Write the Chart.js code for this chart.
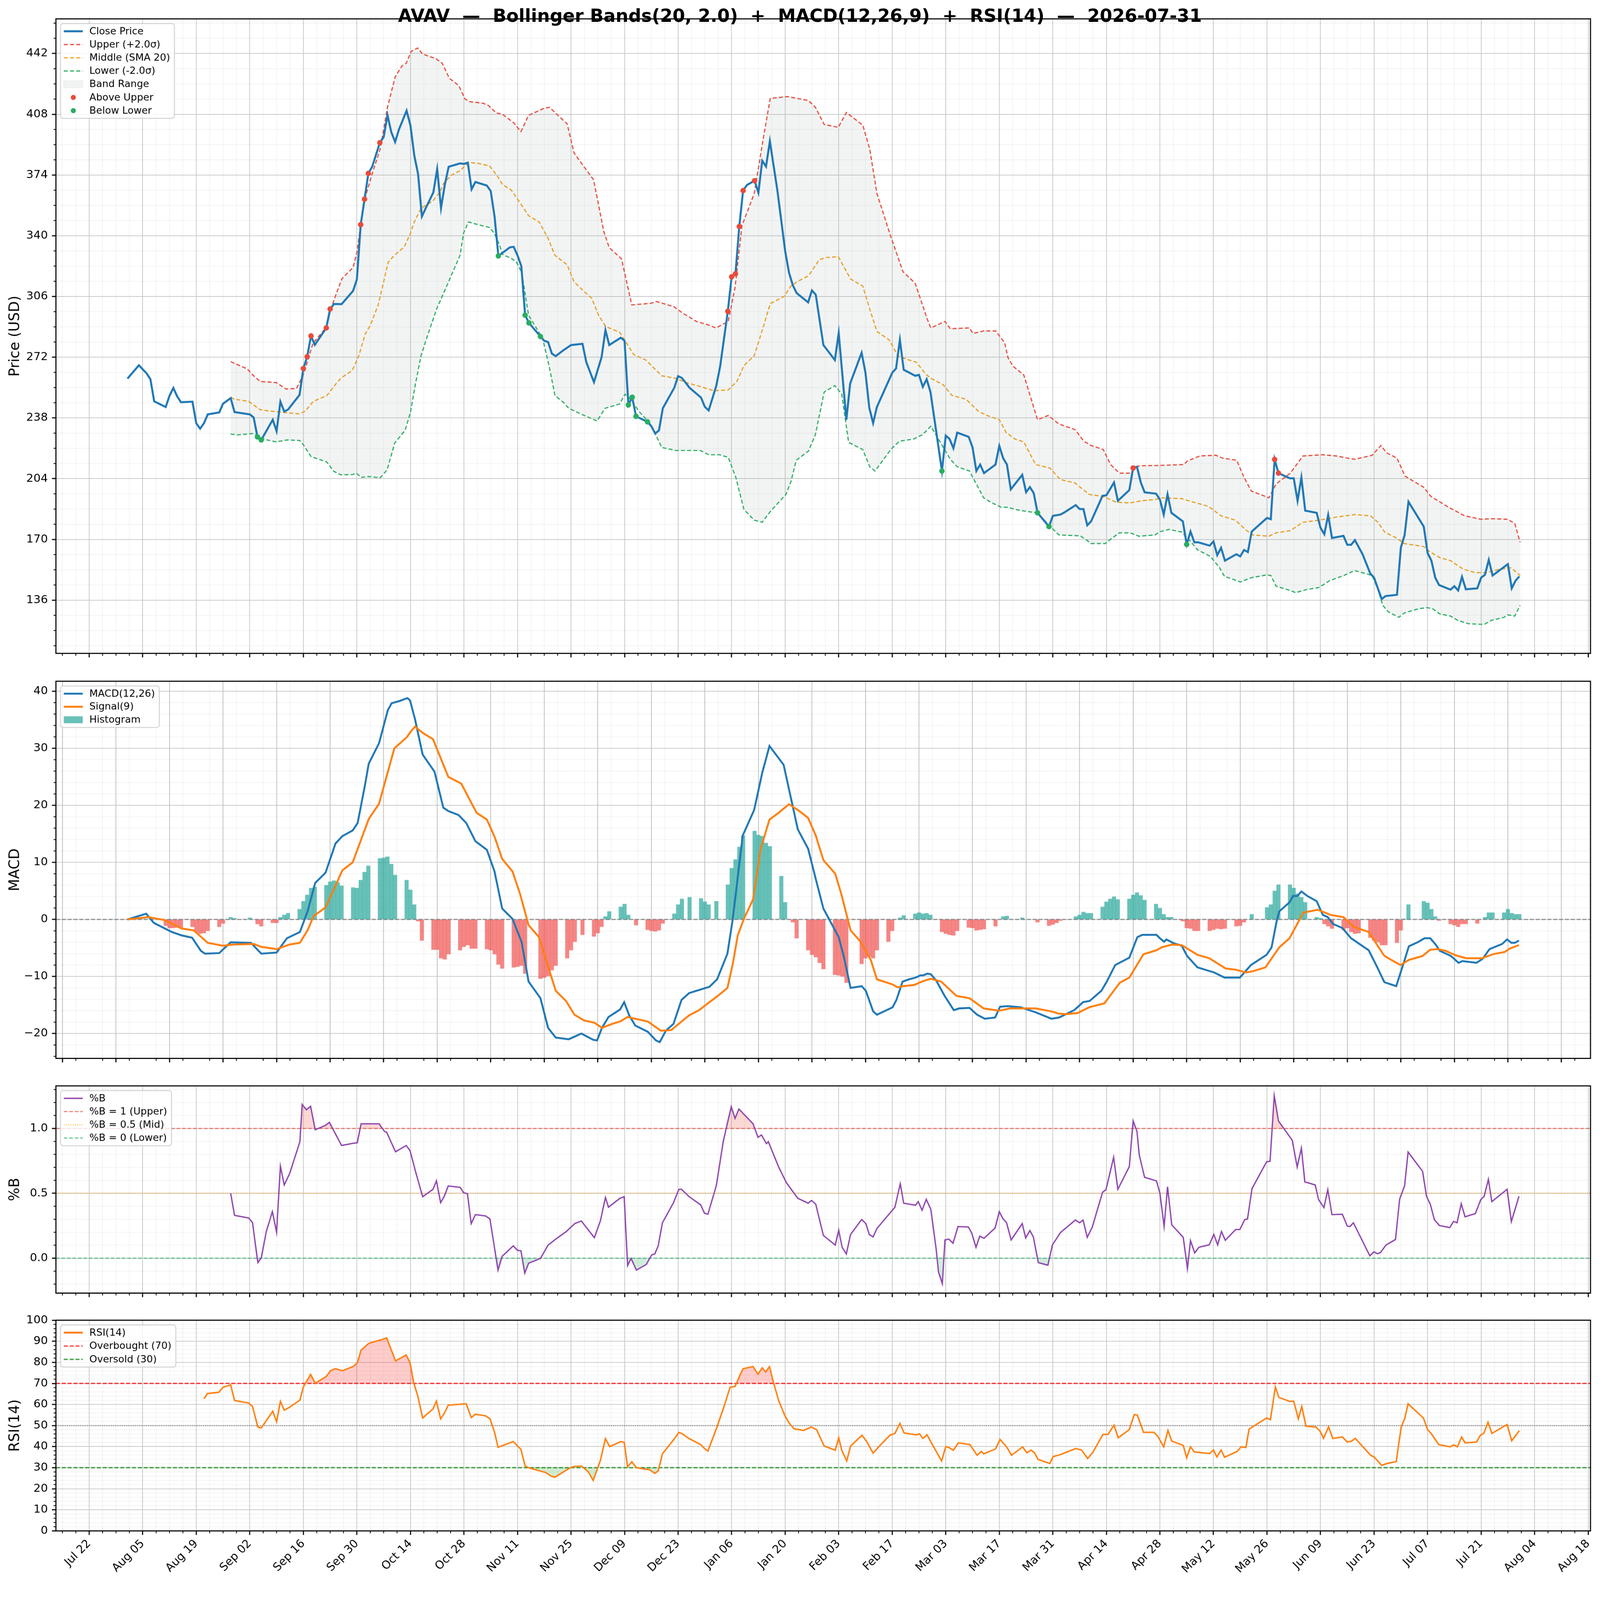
<!DOCTYPE html>
<html>
<head>
<meta charset="utf-8">
<script src="https://cdn.jsdelivr.net/npm/chart.js@4.4.1/dist/chart.umd.min.js"></script>
<style>
  html, body { margin: 0; padding: 0; background: #fff; overflow: hidden; }
  #wrap { position: absolute; left: 0; top: 0; width: 4377px; height: 4322px; overflow: hidden; background: #fff;
          transform-origin: 0 0; }
  canvas { position: absolute; left: 0; }
  #title { position: absolute; left: 0; top: 19px; width: 4377px; text-align: center; white-space: pre;
           font: bold 49px "DejaVu Sans", sans-serif; line-height: 49px; color: #000; z-index: 5; }
</style>
</head>
<body>
<div id="wrap">
  <canvas id="cPrice"></canvas>
  <canvas id="cMacd"></canvas>
  <canvas id="cPb"></canvas>
  <canvas id="cRsi"></canvas>
  <div id="title">AVAV  —  Bollinger Bands(20, 2.0)  +  MACD(12,26,9)  +  RSI(14)  —  2026-07-31</div>
</div>
<script>
// x values are calendar days counted from 2025-07-22
const tickDays = [0, 14, 28, 42, 56, 70, 84, 98, 112, 126, 140, 154, 168, 182, 196, 210, 224, 238, 252, 266, 280, 294, 308, 322, 336, 350, 364, 378, 392];
const tickLabels = ['Jul 22', 'Aug 05', 'Aug 19', 'Sep 02', 'Sep 16', 'Sep 30', 'Oct 14', 'Oct 28', 'Nov 11', 'Nov 25',
  'Dec 09', 'Dec 23', 'Jan 06', 'Jan 20', 'Feb 03', 'Feb 17', 'Mar 03', 'Mar 17', 'Mar 31', 'Apr 14',
  'Apr 28', 'May 12', 'May 26', 'Jun 09', 'Jun 23', 'Jul 07', 'Jul 21', 'Aug 04', 'Aug 18'];

// close price
const closeDays = [10,13,14,15,16,17,20,21,22,23, 24,27,28,29,30,31,34,35,37,38, 42,43,44,45,48,49,50,51,52,55,
  56,57,58,59,62,63,64,66,69,70, 71,72,73,74,76,77,78,79,80,81, 83,84,85,86,87,88,90,91,92,93,
  94,97,98,99,100,101,104,105,106,107, 110,111,112,113,114,115,118,119,120,121, 122,124,126,129,130,132,134,135,136,139,
  140,141,142,143,146,147,148,149,150,153, 154,155,157,160,161,162,164,165,167,168, 169,170,171,172,174,175,176,177,178,180,
  182,183,184,185,188,189,190,192,195,196, 198,199,202,203,204,205,206,210,211,212, 213,216,217,218,219,220,223,224,225,226,
  227,230,231,232,233,234,237,238,239,240, 241,244,245,246,247,248,251,252,254,255, 258,259,260,261,262,265,266,268,269,272,
  273,274,275,276,279,280,281,282,283,286, 287,288,289,290,293,294,295,296,297,298, 300,301,302,303,304,308,309,310,311,314,
  315,316,317,318,321,322,323,324,325,328, 329,330,331,333,335,336,338,339,342,343, 344,345,349,350,351,352,353,356,357,358,
  359,360,363,364,365,366,367,368,371,372, 373,374];
const closeVals = [260,267.5,265.2,263,259.7,247.3,244.1,250.4,254.8,250.1, 246.8,247.1,235,232,235,240,241.1,246,249.1,241.3,
  240,238.3,227.4,225.7,237,230.6,247.1,241.6,242.7,250.9, 265.7,272.3,283.9,278.9,288.4,299,301.8,301.7,309.1,315.6,
  346.2,360.5,374.9,378.6,392.1,395.2,407.5,398,392.5,399.5, 410,401.8,385.1,374.5,350.8,355.4,364.3,377.4,355.4,368.6,
  378.6,380.5,380.2,380.9,366,370.1,368.1,365,350.8,328.7, 333.5,333.8,329,323,295.5,291.2,283.6,281.2,280.5,274,
  272.6,275.9,278.8,279.5,269.2,258,272.1,287.2,278.8,282.9, 281.2,245.3,249.6,238.9,235.8,233.4,229.3,231,243.4,254.9,
  261.4,260.4,254.9,249.4,244.2,242.2,256.1,266.9,297.7,317, 318.7,345.2,365.3,368.4,370.8,364.1,382,378.7,393,364.8,
  331.4,319.4,312.3,307.9,302.7,309.4,307,278.8,270.4,285.5, 237,257.3,274.5,263.3,243.7,235.1,244.2,263.3,265.7,281.7,
  265,261.6,262.1,255.4,259.7,252.5,208.3,228.1,226.2,221, 229.8,227.4,221.5,208.3,211.9,207.1,211.9,222.4,215.5,211.9,
  198,206.2,196.4,199.3,195.9,184.9,177.2,183.2,183.9,185.1, 189.2,187,187,177.9,180.1,194.4,194.7,201.9,191.6,197.6,
  210,210.7,201.9,196.4,195.6,192.3,183.9,195.2,184.9,180.1, 167.2,174.4,168.4,168.4,166.5,168.9,161.2,165.3,158.1,159.3,
  161.7,160.5,164.1,162.9,174.4,182,181.3,214.8,207.1,204.2, 204.2,191.6,204.7,186.1,184.9,176.5,172.9,183.7,170.8,172,
  167,167,169.6,161.7,151,148.6,136.6,138.3,139,165.3, 172.5,191.1,177.2,162.4,158.1,148.6,144.5,141.9,143.8,141.4,
  149.1,142.1,142.6,148.6,150.2,158.6,149.8,151.4,156.2,142.6, 146.9,149.3];

// Bollinger bands
const upperDays = [37,38.5,41.3,42.8,44.7,48.9,51.5,54.2,56.1,57.4, 58.5,62.1,63.1,64.6,66.1,69,70,71,72.2,73.9,
  76.1,78,80,81.8,82.9,84.2,85.9,87.2,90.6,92.3, 94.2,96.6,98.3,99.6,103,104.4,106.4,108.1,110.4,111.1,
  112.9,114.9,119,120.4,121.8,125,126.8,129.6,131.9,134.6, 136,139.2,140.5,141.9,146.9,148.3,152.9,155.2,158.8,161.6,
  163.9,167.1,168.9,170.7,173.9,176.2,178.1,182.6,188.1,189.9, 192.2,195.9,198,202.3,204.1,206,209.6,212.8,216,219.2,
  220.1,223.8,225.2,230.2,231.1,233.9,237.1,239.4,240.3,241.6, 244.4,248,250.8,253.6,257.8,260.1,262,265.2,267.1,269.4,
  272.2,274.5,279.7,286.2,287.1,290.4,294.6,296.4,300.1,302, 303.9,308.5,310.4,314.1,317.4,322.5,326.2,330.9,335.5,337.8,
  339.2,342,344.1,349,350.9,355.5,359.7,363.9,366.7,370.9, 372.8,374.2];
const upperVals = [269.5,268.1,265.5,262,258.4,257.8,254.2,254.5,262.7,272, 279.7,289,298.3,307.5,316,322.2,330.7,346,361.6,374,
  388.7,411.9,428.9,435.1,436.6,443.2,445.1,441.7,439.2,436.6, 428.1,424.2,416.5,415,414.2,412.9,408.8,408,404.2,403,
  398.3,407.4,411.4,411.9,409,402.6,386.3,378,371.3,342.1, 333.3,327.1,314.6,301.3,302.2,303.2,300.3,296.7,292,290.3,
  288.4,292,311.1,345.7,363.6,393.5,416.9,417.9,415.7,411.9, 402.3,400.7,409,401.9,388.7,363.6,339.7,319.9,313.4,293.1,
  288.4,292,287.9,288.4,285.3,286.7,286.7,280,271.6,266.9, 262.1,237,239.4,234.6,231.5,225,222.6,220.3,211.9,207.1,
  207.1,211.2,211.4,211.9,213.8,216.7,217.1,215.5,214.3,204.7, 197.1,193.3,201.1,207.1,216.7,217.4,216.7,214.8,217.1,222.6,
  218.6,215.5,205.4,199.2,194,188,183.2,181.3,181.6,181.3, 178.9,168.4];
const midDays = [37,37.9,41.7,44.7,47.2,50.6,54.9,56.5,58.6,62.1, 64.6,65.9,68.8,70.5,72.2,73.5,75.6,78.2,79.9,82.4,
  83.9,85,86.8,89.8,91.8,92.7,94.8,96.9,99.2,101.7, 104.7,106.8,108.1,110.4,112.2,114.9,117.7,120,121.8,125,
  126.8,129.1,131.4,133.2,135.1,138.7,142.4,145.6,149.7,153.4, 156.1,159.8,163.4,167.1,169.4,171.2,173.9,176.2,178.1,181.7,
  183.5,185.4,188.1,190.9,192.7,195.9,199.1,202.3,204.1,206, 209.2,211.5,213.7,216.3,218.8,220.1,223.3,225.6,229.3,232.5,
  234.8,238,239.8,242.1,244.4,247.5,251.2,254,257.8,261.5, 265.2,268.5,272.2,275,278.7,280.6,285.7,287.6,292.7,296,
  299.7,302.5,304.3,308.5,310.4,314.1,317.4,321.6,326.2,330.9, 335.1,337,338.8,342,343.9,349,350.4,353.2,356,359.3,
  362.5,365.3,369,371.8,374.2];
const midVals = [249.6,248.5,247.3,242.6,241.9,241.1,240.3,241.8,247.3,250.4, 257.3,260.4,264.6,272.8,285.1,289.8,301.4,325.3,329.2,333.8,
  340.8,347.7,355.4,359.3,364.7,369.4,374,376.3,381,380.5, 379.1,373.2,368.6,365.5,360,351.2,347.6,338.5,329,323.7,
  314.2,309.4,305.1,295.5,289.1,286,273.5,270.4,261.6,260.2, 257.8,255.6,253.2,253.7,258.5,267.3,272.8,288.4,302,306,
  311.8,314.6,317.5,326.6,327.8,328.3,315.8,311.8,299.1,286.4, 281.7,272.8,270.9,269.2,262.5,260.2,256.6,250.6,248.5,241.8,
  239.4,237,229.8,226.2,224.6,211.9,210,203.5,201.6,195.2, 194,190.9,190.4,191.6,192.3,193.3,192.8,191.6,188.5,183.2,
  180.8,175.3,172.5,171.8,173.7,174.9,179.6,180.8,182.5,183.9, 183.2,179.6,174.1,170.6,167.7,166,163.4,159.8,158.1,153.4,
  151.4,151.4,153.4,154.1,149.8];
const lowerDays = [37,38.8,42.9,43.8,46.1,48.9,51.8,55,56,58, 62.1,63.9,65.8,68.8,69.9,71.1,73.1,76.1,77.9,79.9,
  82.6,84,85.4,86.8,88.5,91,92.3,94.5,97,97.9, 99.2,101.7,104.7,105.9,107.2,108.1,110.4,111.7,113.1,114.9,
  118.6,120.4,121.8,124.1,125.4,128.7,132.8,134.9,138.7,140.1, 141.9,143.7,146.5,147.9,149.7,153.4,159.8,162,164.8,167.1,
  169.1,171.2,173.9,176,178.1,182.2,183.5,184.9,188.1,189.9, 192.2,195,196.8,198.6,202.3,204.1,205.5,209.6,211.9,215.6,
  217.9,220.1,222.4,225.2,227,230.2,233.9,235.7,238.5,240.3, 242.1,245.3,248,251,253.6,259.2,261,262,265.7,267.1,
  269.4,272.2,274.5,278.7,280.1,282.4,285.7,288,289.9,293.2, 295.5,296.9,301.1,303.9,308.1,309,310.4,314.1,315.5,318.3,
  321.6,324.4,328.1,330.9,335.5,336.9,338.3,339.7,342.5,343.9, 347.6,349.9,351.3,353.2,356,357.9,360.7,364.8,366.7,370,
  370.9,372.8,374.2];
const lowerVals = [229,228.5,229.3,228.1,225.9,224.6,225.7,225.4,223,216.4, 213.4,208.2,206.2,206.3,207.1,204.7,205.2,204.5,208.9,224,
  231,241,258,273,284.3,299.8,306,316.8,329.2,341.5, 347.7,346.2,344.6,341.5,335.4,329.5,327.3,325.4,319.4,295.5,
  282.4,265.7,250.6,246.5,243.4,240.1,236.3,243.4,245.8,251.3, 247.7,241.8,235.3,229.8,221.5,219.8,219.8,217.4,217.4,216,
  204.7,186.8,180.8,179.6,185.6,195.2,202.3,214.3,219.5,228.6, 252.5,256.1,251.3,224.3,220.3,210.7,208.3,220.3,225,226.2,
  228.6,233.4,225,214.8,210.7,208.3,193.3,190.9,188,188, 186.8,185.6,184.9,177.9,172.5,172,169.4,167.7,167.7,170.1,
  173.7,173.7,171.8,172.5,174.4,175.6,174.1,168.9,164.1,160.5, 154.5,149.3,146.2,148.6,150.2,149.8,143.8,141.4,140.2,141.9,
  143.1,146.9,149.8,152.6,149.8,142.6,133.1,129.5,126.4,128.8, 131.2,131.8,131.2,128.3,127.1,124.7,122.8,122.4,124.7,126.4,
  127.8,127.1,133.1];

// band breaks
const aboveDays = [56,57,58,62,63,71,72,73,76,167,168,169,170,171,174,273,310,311];
const aboveVals = [265.7,272.3,283.9,288.4,299,346.2,360.5,374.9,392.1,297.7,317,318.7,345.2,365.3,370.8,210,214.8,207.1];
const belowDays = [44,45,107,114,115,118,141,142,143,146,223,248,251,287];
const belowVals = [227.4,225.7,328.7,295.5,291.2,283.6,245.3,249.6,238.9,235.8,208.3,184.9,177.2,167.2];

// MACD
const macdDays = [10,14.9,16.9,21.6,24.2,26.9,29.2,30.3,34,37, 42.3,45,49,51.7,55.1,57.1,59.1,61.8,64.4,66.2,
  68.9,70.2,72.1,73.1,75.8,78.1,79.1,81.2,83.2,83.9, 85.2,87.2,90.3,92.6,93.9,96.6,98.6,101,104,106,
  108,110.7,113.1,114.9,118,120,122,125.4,128.7,131.8, 132.8,134.1,135.8,138.8,139.9,141.2,142.8,146.1,148.2,149.2,
  150.8,152.8,154.9,156.9,162.2,164.2,166.9,168.3,170.9,173.9, 176,177.9,181.6,185.3,188,190,192,194,196,197.3,
  199.1,202,203.1,205,206,210.1,211.1,212.7,214.4,216.1, 217.4,218.1,219.2,220.1,221.5,223.7,226.1,227.5,230.2,232.2,
  234.2,236.9,238.2,240.2,243.6,247.6,251.6,253.6,257.6,259.9, 261.6,264.7,266.1,268.3,272,274.1,275.4,279.1,280,281.1,
  281.7,283.7,285.7,287.1,289.8,294.2,296.9,300.9,303.8,307.9, 309.2,310.5,311.2,313.9,314.8,315.9,317,318.6,321,322.6,
  323.9,325.3,327.7,330,334.6,336.7,338.7,341.8,344,345.1, 347.4,349.2,350.7,352.1,353.2,356.1,358.1,359.1,362.8,364.4,
  366.2,369.5,370.8,371.9,372.8,373.9];
const macdVals = [0,1,-0.6,-2.2,-2.8,-3.2,-5.5,-6,-5.9,-4, -4.1,-6,-5.8,-3.3,-2.2,1.4,6.4,8.2,13.3,14.6,
  15.6,16.9,23.5,27.3,30.9,36.7,37.9,38.3,38.8,38.4, 35.1,28.9,25.9,19.6,19,18.3,16.9,13.7,12.2,8.4,
  1.9,0.1,-4,-10.9,-13.8,-19,-20.7,-21,-20,-21.1, -21.2,-19,-17.1,-15.8,-14.5,-16.8,-18.6,-19.7,-21.2,-21.5,
  -19.5,-18.3,-14.1,-12.9,-11.8,-10.5,-6,0.1,14.7,19.2, 25.7,30.4,27.1,15.8,12.4,7.1,1.9,-0.6,-3.1,-6.4,
  -12,-11.7,-12.5,-16.1,-16.7,-15.4,-14.1,-10.9,-10.5,-10.2, -9.8,-9.8,-9.5,-9.6,-10.7,-13.4,-15.9,-15.6,-15.5,-16.7,
  -17.4,-17.2,-15.3,-15.2,-15.4,-16.3,-17.4,-17.2,-15.9,-14.5, -14.3,-12.5,-10.9,-8,-6.7,-3.1,-2.7,-2.7,-3.3,-3.9,
  -3.5,-4.2,-4.6,-6.4,-8.4,-9.3,-10.2,-10.2,-8,-6.2, -4.9,-0.4,1.4,3,4.1,4.1,4.9,4.1,3.2,0.8,
  0.4,-0.8,-1.5,-3.3,-5.4,-8.2,-11,-11.7,-7.1,-4.7, -4,-3.3,-3.3,-4.4,-5.5,-6.4,-7.6,-7.3,-7.6,-6.9,
  -5.2,-4.3,-3.5,-4.1,-4.1,-3.7];
const sigDays = [10,15.5,19.6,24.2,27.3,31,35,37.6,43,45, 49,52.4,55.1,57.1,58.7,61.8,66.2,68.9,70.5,73.1,
  75.8,79.8,83,84.3,85.2,87.2,89.9,93.9,97.3,101.3, 104,106,108,110.7,112.7,114.9,117.6,122,124.7,126.9,
  129.4,132.1,134.1,136.8,138.8,140.8,146.1,149.5,152.2,154.9, 156.9,159.5,162.2,164.2,166.9,168.3,169.6,171.2,173.6,175.6,
  177.9,180.3,183,185.7,188,190,192,195.1,196.7,199.1, 201.6,204.4,206,210.1,211.4,212.7,215.7,218.1,220.1,222.8,
  226.8,230.2,233.9,238,240.8,247.5,251.5,253.5,255.5,258.5, 261.5,265.5,267.5,269.5,272,275.7,279.1,280.4,283.1,285.7,
  289.8,292.9,297.2,299.8,302.5,304.2,307.6,311.2,313.9,317.5, 321.3,324.6,328,330.7,334.6,338.7,342.9,345.1,348.7,350.7,
  352.7,354.7,357.4,360.1,364.2,367.1,370.2,371.5,373.9];
const sigVals = [0,0.4,-0.1,-1.6,-1.9,-4.1,-4.6,-4.4,-4.3,-4.8, -5.2,-4.4,-4.1,-1.9,0.6,2.1,8.6,10,12.9,17.6,
  20.3,30,31.9,33.1,33.8,32.7,31.6,25,23.8,18.7, 17.5,14.5,10.6,8.4,4.4,-1,-3.1,-12.5,-14.3,-16.7,
  -17.7,-18.1,-19,-18.3,-17.9,-17.1,-17.9,-19.5,-19.4,-17.9, -16.8,-15.9,-14.5,-13.5,-12,-7.8,-2.8,0.1,3.5,12.4,
  17.5,18.7,20.2,19,17.8,14.7,10.4,8,4.4,-1.9, -3.8,-7.1,-10.5,-11.4,-11.9,-11.7,-11.5,-10.8,-10.4,-10.9,
  -13.4,-13.8,-15.6,-16,-15.6,-15.6,-16.1,-16.5,-16.6,-16.4, -15.4,-14.7,-12.9,-11.1,-10.2,-6.1,-5.4,-4.9,-4.4,-4.5,
  -6.2,-6.8,-8.6,-8.8,-9.3,-9.1,-8.4,-4.9,-3.3,1.2, 1.7,0.8,0.4,-1.3,-2.2,-6.4,-8,-7.1,-6.4,-5.3,
  -5.2,-5.5,-6.3,-6.8,-6.8,-6.1,-5.7,-5.1,-4.5];
const histDays = [20,21,22,23,24,27,28,29,30,31, 34,35,37,38,42,44,45,48,49,50, 51,52,55,56,57,58,59,62,63,64,
  65,66,69,70,71,72,73,76,77,78, 79,80,83,84,85,86,87,90,91,92, 93,94,97,98,99,100,101,104,105,106,
  107,108,111,112,113,114,118,119,120,121, 122,125,126,127,129,132,133,134,135,136, 139,140,141,143,146,147,148,149,150,153,
  154,155,157,160,161,162,164,167,168,169, 170,171,174,175,176,177,178,181,182,184, 185,188,189,190,191,192,195,196,197,198,
  202,203,204,205,206,209,210,212,213,216, 217,218,219,220,223,224,225,226,227,230, 231,232,233,234,237,239,240,244,248,251,
  252,253,254,258,259,260,261,262,265,266, 267,268,269,272,273,274,275,276,279,280, 281,282,283,286,287,288,289,290,293,294,
  295,296,297,300,301,302,304,308,309,310, 311,314,315,316,317,318,321,322,323,324, 325,328,329,330,331,332,335,336,337,338,
  339,342,343,344,345,349,350,351,352,353, 356,357,358,359,360,363,365,366,367,370, 371,372,373,374];
const histVals = [-1.1,-1.5,-1.5,-1.4,-1.5,-1.3,-2.2,-2.5,-2.4,-2, -1.3,-0.7,0.4,0.2,0.3,-0.8,-1.2,-0.6,-0.6,0.4,
  0.8,1.1,1.8,3.2,4.3,5.5,5.7,6,6.6,6.8, 6.5,5.9,5.6,5.5,6.9,8.3,9.4,10.7,10.8,11, 9.7,7.8,6.9,5.2,2.6,-0.3,-3.7,-5.3,-5.3,-6.8,
  -7,-6.1,-5.4,-4.8,-4.5,-5.1,-5.1,-5.2,-5.4,-6.1, -7.9,-8.6,-8.4,-8.3,-8.1,-9.5,-10.4,-10.2,-9.9,-8.9,
  -8.1,-6.8,-5.4,-3.9,-2.7,-3,-2.4,-1.3,0.5,1.4, 2.2,2.7,0.8,-1,-1.8,-2,-2.1,-1.9,-0.7,1,
  2.6,3.6,3.9,3.7,3.1,2.6,3.2,6.1,9,10.5, 12.7,14.7,15.5,14.8,14.6,13.4,12.8,7.6,3,-0.5,
  -3.3,-5.4,-6.2,-6.6,-7.6,-8.7,-9.7,-9.8,-10,-11.1, -7.8,-6.8,-6.5,-6.8,-5.4,-3.9,-2,0.3,0.7,1,
  1.2,1,1.1,0.8,-2.2,-2.5,-2.7,-2.8,-2,-1.4, -1.5,-1.9,-1.8,-1.7,-1.2,0.5,0.6,0.3,-0.5,-1.1,
  -0.9,-0.6,-0.2,0.5,0.8,1.3,1.1,1.1,2.2,3.1, 3.6,4,3.5,3.6,4.3,4.7,4.2,3.4,2.7,2,
  0.9,0.4,0.4,-0.3,-1.5,-1.6,-2,-2,-2,-1.8, -1.6,-1.7,-1.6,-1.2,-1.1,-0.5,0.9,2.1,2.6,5,
  6.1,6.1,5.5,4.5,3.9,3,0.4,0.2,-0.8,-1.2, -1.6,-1.8,-1.5,-2.2,-2.5,-2.4,-3.2,-3.7,-4,-4.5,
  -4.5,-4.1,-1.9,0.1,2.6,3.2,2.9,1.8,0.5,-0.2, -0.8,-1,-1.3,-0.8,-0.8,-0.7,0.4,1.2,1.2,1.2,
  1.8,1.1,0.9,0.9];

// %B
const pbDays = [37,38,41.7,42.7,44.1,45,46.3,47.9,49,50, 51,52.4,55.1,55.7,56.8,57.9,59.1,61.8,62.8,66,
  69.1,70.1,71.1,75.8,77.2,77.8,80.1,82.9,83.9,85.5, 87.2,89.9,90.8,91.9,92.8,93.9,97,97.9,98.9,99.9,
  101,103.7,104.8,106,106.9,108,110.9,112,112.9,113.9, 114.9,118,120,122,124.7,127,128.7,132.1,133.7,135,
  135.8,138.8,139.9,140.8,141.7,143.1,145.7,147.1,147.9,148.8, 149.9,152.8,154.2,154.9,156.9,159.9,160.9,161.8,164,165.8,
  166.9,167.9,168.9,169.9,173.6,174.9,175.8,177.1,177.6,180.3, 182.3,185.3,188,188.9,190,192,195.1,196,196.9,198,
  199.1,202,203.1,204,205,206,210.7,212.1,213,216.1, 216.8,217.8,218.9,220.1,221.5,222.1,223.1,223.8,224.8,225.9,
  227.2,229.9,230.8,231.9,232.9,234,236.9,238,238.9,239.9, 241.1,244,244.9,246,246.9,248.2,250.7,251.9,254,257.9,
  259,259.9,261,262.3,265,265.9,267.9,269,272,273, 274,274.6,276,279.1,280,281.1,282,283.1,286.1,287.2,
  288,289.1,290.2,292.9,294.1,295.1,296.1,297.1,299.8,300.9, 302.2,302.9,304.1,307.9,308.8,309.9,311,314.6,315.9,317,
  317.9,320.6,321.5,322.9,323.9,325,327.7,329,329.7,330.6, 334.9,336,336.9,337.7,339.1,341.6,342.7,344,344.9,348.7,
  349.7,350.7,351.8,353.1,355.8,356.8,357.7,358.8,359.8,362.5, 363.9,364.8,365.9,366.8,370.8,371.9,373.9];
const pbVals = [0.5,0.33,0.31,0.275,-0.034,0.003,0.204,0.359,0.2,0.709, 0.565,0.651,0.898,1.185,1.144,1.171,0.99,1.024,1.047,0.869,
  0.886,0.89,1.036,1.036,0.978,0.97,0.82,0.869,0.829,0.651, 0.474,0.531,0.596,0.428,0.474,0.557,0.546,0.505,0.497,0.267,
  0.336,0.325,0.302,0.078,-0.092,0.015,0.095,0.061,0.057,-0.115, -0.039,-0.002,0.101,0.147,0.204,0.267,0.287,0.158,0.29,0.468,
  0.393,0.462,0.474,-0.057,-0.002,-0.092,-0.048,0.026,0.032,0.095, 0.273,0.428,0.531,0.531,0.474,0.411,0.347,0.339,0.56,0.898,
  1.041,1.167,1.078,1.15,1.036,0.932,0.95,0.883,0.898,0.703, 0.583,0.462,0.424,0.445,0.416,0.175,0.101,0.216,0.084,0.032,
  0.183,0.298,0.267,0.183,0.164,0.229,0.393,0.573,0.424,0.408, 0.436,0.37,0.454,0.376,0.067,-0.106,-0.197,0.141,0.147,0.115,
  0.244,0.241,0.193,0.084,0.17,0.153,0.233,0.359,0.307,0.273, 0.141,0.267,0.156,0.213,0.164,-0.034,-0.054,0.103,0.198,0.294,
  0.273,0.294,0.161,0.239,0.508,0.528,0.778,0.531,0.706,1.058, 0.978,0.795,0.623,0.596,0.502,0.244,0.55,0.256,0.161,-0.08,
  0.135,0.041,0.084,0.103,0.183,0.103,0.206,0.138,0.221,0.221, 0.298,0.302,0.537,0.743,0.747,1.253,1.058,0.909,0.703,0.849,
  0.588,0.565,0.451,0.39,0.528,0.336,0.339,0.248,0.244,0.273, 0.018,0.049,0.034,0.044,0.101,0.144,0.456,0.56,0.818,0.669,
  0.479,0.416,0.296,0.252,0.236,0.284,0.273,0.42,0.319,0.344, 0.451,0.477,0.608,0.436,0.531,0.282,0.477];

// RSI(14)
const rsiDays = [30,30.9,33.9,35,37,38,41.7,42.7,44.1,45, 48,49,50,51,52.4,55.1,56,57.9,59.1,62,
  63.1,64.4,66.2,69.1,70.1,71.1,73.1,76.1,77.8,80.1, 82.9,83.9,84.9,85.9,87.2,89.9,90.8,91.9,92.8,93.9,
  97,98.6,99.9,101,103.7,104.8,106,106.9,110.9,112.9, 114,114.9,119.4,120.7,121.8,125.8,126.9,128.7,130.5,131.8,
  133.7,135,136.1,139,139.9,140.8,141.9,143.1,146.6,147.9, 148.8,149.9,152.8,154.2,154.9,156.9,159.9,160.9,161.8,164,
  165.8,167.6,168.9,170.3,171,173.6,174.9,176,176.9,177.9, 179,180.3,181.9,183,184.3,186.8,188.8,190.2,192.2,195.1,
  196,196.8,198.1,199.1,202.1,203.4,205,206.5,209.4,210.7, 212,213.1,216.3,217.1,218,219.1,220,222.9,224,224.9,
  226,227.3,230.3,232.2,233.3,233.9,237,238.2,239.9,241.2, 244.1,245.2,246.3,247.2,248.1,251.2,252.1,253.8,258,259.5,
  261.1,262.4,265.1,266.4,268,269.1,272,273.3,274.1,275.7, 278.4,279.4,281,282.1,283.1,286.1,287,288,289,293,
  294,294.9,296,296.9,300.2,301.2,302.5,303.3,307.9,308.9, 310.2,311.1,313.9,315,316.2,317.1,318.2,320.8,321.9,322.8,
  324.1,325.2,327.7,329,330.1,331.1,335.1,336,338,339.4, 341.8,343.1,344,344.9,348.9,350,351,352.9,355.9,356.8,
  357.8,358.9,359.8,362.8,363.8,364.7,365.8,366.8,370.8,372, 373.1,374];
const rsiVals = [62.7,65.2,65.8,68.2,69.3,61.9,60.7,59.1,49.3,48.9, 56.8,51.8,61.5,57.3,58.7,62.1,68.3,74.3,70.1,73.3,
  76,77,76,78.1,79.8,85.8,89,90.6,91.6,80.7, 83.5,79.8,70.1,64.2,53.6,57.9,61.6,53.2,55.6,59.7,
  60.1,60.3,53.8,55.4,54.6,53.2,46.9,39.7,42.4,38.7, 30.8,30,27.7,26.1,25.5,30,30.6,30.8,28.1,24,
  33.6,43.8,40,42.4,42.1,30.4,32.8,30,29,27.3, 28.5,36.6,43.2,46.7,46.3,43.8,41,39.1,37.9,48.5,
  57.9,68.2,68.6,74.4,77,78,74.4,77.4,75.4,78, 70.1,61.9,54.8,51.3,48.5,47.7,49.3,48.1,40.3,38.3,
  44.2,38.3,33.2,40.3,45.4,42.2,36.9,40,45.4,46.3, 51,46.5,45.6,46.1,43.9,45.6,42.6,33.2,40,39.5,
  38.3,41.8,41,35.9,37.7,36.6,38.9,43.4,39.9,35.9, 39.9,37.1,38.3,37.1,34,32,35.3,36.1,39.1,38.4,
  34.4,37.1,45.8,45.8,50.2,44.2,48.1,55.2,55,46.8, 46.8,45,39.9,47.7,42.6,40.6,34.7,39.9,37.5,36.7,
  38.4,35.1,38.4,35,37.7,39.9,39.6,48.3,53.6,52.8, 68.3,63.4,61.5,61.5,53.2,59.1,49.7,49.3,47.3,43.9,
  49.4,43.9,44.6,42.2,42.6,43.9,35.9,35.1,31.1,32, 32.9,49.3,53.2,60.3,53.6,48.1,46.1,41,39.9,40.8,
  39.9,44.6,41.8,42.2,45.4,46.3,51.6,46.3,50.5,42.8, 45.4,47.6];

// y tick values
const priceTicks = [136, 170, 204, 238, 272, 306, 340, 374, 408, 442];
const macdTicks = [-20, -10, 0, 10, 20, 30, 40];
const pbTicks = [0, 0.5, 1];
const pbTickLabels = ['0.0', '0.5', '1.0'];
const rsiTicks = [0, 10, 20, 30, 40, 50, 60, 70, 80, 90, 100];

// ---------- layout ----------
const W = 4377, H = 4322, AX_L = 153, AX_R = 4354, PAD = 20;
const X_MIN = -8.7, X_MAX = 392.6;
const GRID = '#c8c8c8';
const CLEAR = 'rgba(0,0,0,0)';

// fit the whole figure into the window
const vw = window.innerWidth || W, vh = window.innerHeight || H;
const FIT = Math.min(1, vw / W, vh / H);
document.getElementById('wrap').style.transform = 'scale(' + FIT + ')';

Chart.defaults.font.family = '"DejaVu Sans", sans-serif';
Chart.defaults.color = '#000';

const pts = (xs, ys) => xs.map((x, i) => ({ x, y: ys[i] }));
const minus = v => String(v).replace('-', '\u2212');

function eachMinor(min, max, base, step, ratio, fn) {
  for (let k = Math.ceil((min - base) / step); base + k * step <= max + 1e-9; k++) {
    if (((k % ratio) + ratio) % ratio !== 0) fn(base + k * step);
  }
}

function seg(ctx, x1, y1, x2, y2) {
  ctx.beginPath(); ctx.moveTo(x1, y1); ctx.lineTo(x2, y2); ctx.stroke();
}

function drawLegend(ctx, a, L) {
  ctx.save();
  ctx.font = '27px "DejaVu Sans", sans-serif';
  const tw = Math.max(...L.items.map(it => ctx.measureText(it.label).width));
  const x0 = a.left + 12.5, y0 = a.top + 13;
  const w = 79 + tw + 12, h = 42 + (L.items.length - 1) * L.row;
  ctx.beginPath();
  ctx.roundRect(x0, y0, w, h, 7);
  ctx.fillStyle = 'rgba(255,255,255,0.8)';
  ctx.fill();
  ctx.lineWidth = 2.5;
  ctx.strokeStyle = 'rgba(204,204,204,0.9)';
  ctx.stroke();
  L.items.forEach((it, i) => {
    const cy = y0 + 21 + i * L.row;
    const hx = x0 + 9, hw = 52;
    ctx.setLineDash([]);
    if (it.kind === 'line' || it.kind === 'dash') {
      ctx.strokeStyle = it.color;
      ctx.lineWidth = it.width;
      ctx.setLineDash(it.dash || []);
      seg(ctx, hx, cy, hx + hw, cy);
    } else if (it.kind === 'box') {
      ctx.fillStyle = it.color;
      ctx.fillRect(hx, cy - 9.5, hw, 19);
      if (it.edge) { ctx.strokeStyle = it.edge; ctx.lineWidth = 1; ctx.strokeRect(hx, cy - 9.5, hw, 19); }
    } else if (it.kind === 'marker') {
      ctx.fillStyle = it.color;
      ctx.beginPath(); ctx.arc(hx + hw / 2, cy, 7, 0, Math.PI * 2); ctx.fill();
    }
    ctx.setLineDash([]);
    ctx.fillStyle = '#000';
    ctx.textBaseline = 'middle';
    ctx.textAlign = 'left';
    ctx.fillText(it.label, x0 + 79, cy + 1);
  });
  ctx.restore();
}

const decoPlugin = {
  id: 'deco',
  beforeDatasetsDraw(chart, args, o) {
    const { ctx, chartArea: a } = chart;
    const x = chart.scales.x, y = chart.scales.y;
    ctx.save();
    ctx.beginPath(); ctx.rect(a.left, a.top, a.right - a.left, a.bottom - a.top); ctx.clip();
    ctx.strokeStyle = 'rgba(0,0,0,0.16)';
    ctx.lineWidth = 1.6;
    ctx.setLineDash([1.6, 2.6]);
    eachMinor(x.min, x.max, 0, o.xMinor, 4, v => {
      const px = x.getPixelForValue(v); seg(ctx, px, a.top, px, a.bottom);
    });
    eachMinor(y.min, y.max, o.yBase, o.yMinor, o.yRatio, v => {
      const py = y.getPixelForValue(v); seg(ctx, a.left, py, a.right, py);
    });
    (o.refs || []).forEach(r => {
      ctx.strokeStyle = r.color; ctx.lineWidth = r.width; ctx.setLineDash(r.dash);
      const py = y.getPixelForValue(r.value); seg(ctx, a.left, py, a.right, py);
    });
    ctx.restore();
  },
  afterDraw(chart, args, o) {
    const { ctx, chartArea: a } = chart;
    const x = chart.scales.x, y = chart.scales.y;
    ctx.save();
    ctx.strokeStyle = '#000';
    ctx.lineWidth = 2.2;
    eachMinor(x.min, x.max, 0, o.xMinor, 4, v => {
      const px = x.getPixelForValue(v); seg(ctx, px, a.bottom, px, a.bottom + 6.5);
    });
    eachMinor(y.min, y.max, o.yBase, o.yMinor, o.yRatio, v => {
      const py = y.getPixelForValue(v); seg(ctx, a.left - 6.5, py, a.left, py);
    });
    ctx.lineWidth = 3;
    ctx.strokeRect(a.left, a.top, a.right - a.left, a.bottom - a.top);
    ctx.restore();
    if (o.legend) drawLegend(ctx, a, o.legend);
  }
};

function xScale(showLabels, h) {
  return {
    type: 'linear', min: X_MIN, max: X_MAX, offset: false,
    afterBuildTicks: s => { s.ticks = tickDays.map(v => ({ value: v })); },
    afterFit: s => { s.height = h; },
    grid: { color: GRID, lineWidth: 2, tickColor: '#000', tickLength: 11, tickWidth: 3 },
    border: { display: false },
    ticks: {
      autoSkip: false, maxRotation: 45, minRotation: 45, padding: 6,
      font: { size: 31 },
      callback: v => showLabels ? tickLabels[tickDays.indexOf(v)] : ''
    }
  };
}

function yScale(title, min, max, vals, labels) {
  return {
    type: 'linear', min, max,
    afterBuildTicks: s => { s.ticks = vals.map(v => ({ value: v })); },
    afterFit: s => { s.width = AX_L; },
    grid: { color: GRID, lineWidth: 2, tickColor: '#000', tickLength: 11, tickWidth: 3 },
    border: { display: false },
    ticks: { padding: 11, font: { size: 31 }, callback: v => labels[vals.indexOf(v)] },
    title: { display: true, text: title, font: { size: 39 }, padding: { top: 18, bottom: 0 } }
  };
}

function makeChart(id, top, bottom, xh, showX, datasets, yOpts, deco) {
  const c = document.getElementById(id);
  const h = bottom - top + PAD + xh;
  c.width = W; c.height = h;
  c.style.width = W + 'px'; c.style.height = h + 'px'; c.style.top = (top - PAD) + 'px';
  return new Chart(c, {
    type: 'line',
    data: { datasets },
    options: {
      responsive: false, animation: false, devicePixelRatio: 1,
      layout: { padding: { top: PAD, left: 0, right: W - AX_R, bottom: 0 } },
      elements: { point: { radius: 0 }, line: { tension: 0 } },
      plugins: { legend: { display: false }, tooltip: { enabled: false }, deco },
      scales: { x: xScale(showX, xh), y: yOpts }
    },
    plugins: [decoPlugin]
  });
}

// ---------- price + bands ----------
makeChart('cPrice', 42, 1797, 20, false, [
  { data: pts(closeDays, closeVals), borderColor: '#1f77b4', borderWidth: 5.5, fill: false, order: 1 },
  { data: pts(upperDays, upperVals), borderColor: '#e74c3c', borderWidth: 3.2, borderDash: [11, 6],
    fill: '+2', backgroundColor: 'rgba(149,165,166,0.12)', order: 2 },
  { data: pts(midDays, midVals), borderColor: '#f39c12', borderWidth: 3.2, borderDash: [11, 6], fill: false, order: 2 },
  { data: pts(lowerDays, lowerVals), borderColor: '#27ae60', borderWidth: 3.2, borderDash: [11, 6], fill: false, order: 2 },
  { data: pts(aboveDays, aboveVals), showLine: false, pointRadius: 7.5, pointBackgroundColor: '#e74c3c',
    pointBorderWidth: 0, order: 0 },
  { data: pts(belowDays, belowVals), showLine: false, pointRadius: 7.5, pointBackgroundColor: '#27ae60',
    pointBorderWidth: 0, order: 0 }
], yScale('Price (USD)', 106.2, 461.4, priceTicks, priceTicks.map(String)), {
  xMinor: 3.5, yBase: 136, yMinor: 8.5, yRatio: 4,
  legend: { row: 36.2, items: [
    { label: 'Close Price', kind: 'line', color: '#1f77b4', width: 5.5 },
    { label: 'Upper (+2.0σ)', kind: 'dash', color: '#e74c3c', width: 3.2, dash: [11, 6] },
    { label: 'Middle (SMA 20)', kind: 'dash', color: '#f39c12', width: 3.2, dash: [11, 6] },
    { label: 'Lower (-2.0σ)', kind: 'dash', color: '#27ae60', width: 3.2, dash: [11, 6] },
    { label: 'Band Range', kind: 'box', color: 'rgba(149,165,166,0.12)', edge: 'rgba(149,165,166,0.25)' },
    { label: 'Above Upper', kind: 'marker', color: '#e74c3c' },
    { label: 'Below Lower', kind: 'marker', color: '#27ae60' }
  ] }
});

// ---------- MACD ----------
makeChart('cMacd', 1854, 2905, 20, false, [
  { type: 'bar', data: pts(histDays, histVals), barThickness: 10.4, borderWidth: 0, order: 3,
    backgroundColor: c => (c.raw && c.raw.y >= 0) ? 'rgba(38,166,154,0.7)' : 'rgba(239,83,80,0.7)' },
  { data: pts(macdDays, macdVals), borderColor: '#1f77b4', borderWidth: 5.2, fill: false, order: 2 },
  { data: pts(sigDays, sigVals), borderColor: '#ff7f0e', borderWidth: 5.2, fill: false, order: 1 }
], yScale('MACD', -24.36, 41.75, macdTicks, macdTicks.map(minus)), {
  xMinor: 3.5, yBase: 0, yMinor: 2, yRatio: 5,
  refs: [{ value: 0, color: 'rgba(128,128,128,0.9)', width: 3, dash: [11, 5] }],
  legend: { row: 35.7, items: [
    { label: 'MACD(12,26)', kind: 'line', color: '#1f77b4', width: 5.2 },
    { label: 'Signal(9)', kind: 'line', color: '#ff7f0e', width: 5.2 },
    { label: 'Histogram', kind: 'box', color: 'rgba(38,166,154,0.7)' }
  ] }
});

// ---------- %B ----------
makeChart('cPb', 2961, 3547, 20, false, [
  { data: pts(pbDays, pbVals), borderColor: '#8e44ad', borderWidth: 3.6,
    fill: { target: { value: 1 }, above: 'rgba(231,76,60,0.22)', below: CLEAR }, order: 1 },
  { data: pts(pbDays, pbVals), borderColor: CLEAR, borderWidth: 0,
    fill: { target: { value: 0 }, above: CLEAR, below: 'rgba(39,174,96,0.22)' }, order: 2 }
], yScale('%B', -0.269, 1.328, pbTicks, pbTickLabels), {
  xMinor: 3.5, yBase: 0, yMinor: 0.1, yRatio: 5,
  refs: [
    { value: 1, color: 'rgba(231,76,60,0.7)', width: 3, dash: [10, 5] },
    { value: 0.5, color: 'rgba(243,156,18,0.6)', width: 3, dash: [3, 3] },
    { value: 0, color: 'rgba(39,174,96,0.7)', width: 3, dash: [10, 5] }
  ],
  legend: { row: 36.2, items: [
    { label: '%B', kind: 'line', color: '#8e44ad', width: 3.6 },
    { label: '%B = 1 (Upper)', kind: 'dash', color: 'rgba(231,76,60,0.7)', width: 3, dash: [10, 5] },
    { label: '%B = 0.5 (Mid)', kind: 'dash', color: 'rgba(243,156,18,0.6)', width: 3, dash: [3, 3] },
    { label: '%B = 0 (Lower)', kind: 'dash', color: 'rgba(39,174,96,0.7)', width: 3, dash: [10, 5] }
  ] }
});

// ---------- RSI ----------
makeChart('cRsi', 3602, 4188, 134, true, [
  { data: pts(rsiDays, rsiVals), borderColor: '#ff7f0e', borderWidth: 4,
    fill: { target: { value: 70 }, above: 'rgba(255,0,0,0.2)', below: CLEAR }, order: 1 },
  { data: pts(rsiDays, rsiVals), borderColor: CLEAR, borderWidth: 0,
    fill: { target: { value: 30 }, above: CLEAR, below: 'rgba(0,150,0,0.18)' }, order: 2 }
], yScale('RSI(14)', 0, 100, rsiTicks, rsiTicks.map(String)), {
  xMinor: 3.5, yBase: 0, yMinor: 2, yRatio: 5,
  refs: [
    { value: 50, color: 'rgba(128,128,128,0.8)', width: 3, dash: [3, 3] },
    { value: 70, color: 'rgba(255,0,0,0.75)', width: 3.5, dash: [11, 5] },
    { value: 30, color: 'rgba(0,128,0,0.75)', width: 3.5, dash: [11, 5] }
  ],
  legend: { row: 36.6, items: [
    { label: 'RSI(14)', kind: 'line', color: '#ff7f0e', width: 5 },
    { label: 'Overbought (70)', kind: 'dash', color: 'rgba(255,0,0,0.75)', width: 3.5, dash: [11, 5] },
    { label: 'Oversold (30)', kind: 'dash', color: 'rgba(0,128,0,0.75)', width: 3.5, dash: [11, 5] }
  ] }
});
</script>
</body>
</html>
